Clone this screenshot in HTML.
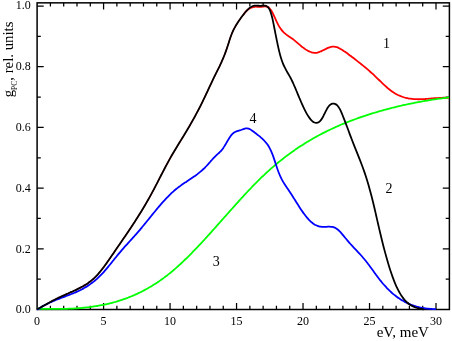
<!DOCTYPE html>
<html><head><meta charset="utf-8"><title>chart</title>
<style>html,body{margin:0;padding:0;background:#fff;overflow:hidden}svg{display:block;will-change:transform}text{font-family:"Liberation Serif",serif;fill:#000}</style>
</head><body>
<svg width="452" height="341" viewBox="0 0 452 341">
<rect x="0" y="0" width="452" height="341" fill="#fff"/>
<rect x="37.10" y="2.85" width="412.30" height="306.65" fill="none" stroke="#000" stroke-width="1.50"/>
<path d="M50.40 309.50v-3.70M50.40 2.85v3.70M63.69 309.50v-3.70M63.69 2.85v3.70M76.99 309.50v-3.70M76.99 2.85v3.70M90.29 309.50v-3.70M90.29 2.85v3.70M103.58 309.50v-6.60M103.58 2.85v6.60M116.88 309.50v-3.70M116.88 2.85v3.70M130.18 309.50v-3.70M130.18 2.85v3.70M143.47 309.50v-3.70M143.47 2.85v3.70M156.77 309.50v-3.70M156.77 2.85v3.70M170.07 309.50v-6.60M170.07 2.85v6.60M183.36 309.50v-3.70M183.36 2.85v3.70M196.66 309.50v-3.70M196.66 2.85v3.70M209.96 309.50v-3.70M209.96 2.85v3.70M223.25 309.50v-3.70M223.25 2.85v3.70M236.55 309.50v-6.60M236.55 2.85v6.60M249.85 309.50v-3.70M249.85 2.85v3.70M263.14 309.50v-3.70M263.14 2.85v3.70M276.44 309.50v-3.70M276.44 2.85v3.70M289.74 309.50v-3.70M289.74 2.85v3.70M303.03 309.50v-6.60M303.03 2.85v6.60M316.33 309.50v-3.70M316.33 2.85v3.70M329.63 309.50v-3.70M329.63 2.85v3.70M342.92 309.50v-3.70M342.92 2.85v3.70M356.22 309.50v-3.70M356.22 2.85v3.70M369.52 309.50v-6.60M369.52 2.85v6.60M382.81 309.50v-3.70M382.81 2.85v3.70M396.11 309.50v-3.70M396.11 2.85v3.70M409.41 309.50v-3.70M409.41 2.85v3.70M422.70 309.50v-3.70M422.70 2.85v3.70M436.00 309.50v-6.60M436.00 2.85v6.60M37.10 279.15h3.70M449.40 279.15h-3.70M37.10 248.81h6.60M449.40 248.81h-6.60M37.10 218.47h3.70M449.40 218.47h-3.70M37.10 188.12h6.60M449.40 188.12h-6.60M37.10 157.78h3.70M449.40 157.78h-3.70M37.10 127.43h6.60M449.40 127.43h-6.60M37.10 97.09h3.70M449.40 97.09h-3.70M37.10 66.74h6.60M449.40 66.74h-6.60M37.10 36.39h3.70M449.40 36.39h-3.70M37.10 6.05h6.60M449.40 6.05h-6.60" stroke="#000" stroke-width="1.25" fill="none"/>
<path d="M37.00 309.27C37.25 309.15 38.00 308.78 38.50 308.53C39.00 308.27 39.50 308.02 40.00 307.75C40.50 307.49 41.00 307.23 41.50 306.96C42.00 306.69 42.50 306.42 43.00 306.14C43.50 305.87 44.00 305.59 44.50 305.31C45.00 305.03 45.50 304.75 46.00 304.47C46.50 304.19 47.00 303.91 47.50 303.63C48.00 303.34 48.50 303.06 49.00 302.78C49.50 302.50 50.00 302.22 50.50 301.95C51.00 301.67 51.50 301.40 52.00 301.12C52.50 300.85 53.00 300.58 53.50 300.32C54.00 300.05 54.50 299.79 55.00 299.53C55.50 299.28 56.00 299.03 56.50 298.78C57.00 298.53 57.50 298.28 58.00 298.04C58.50 297.79 59.00 297.55 59.50 297.32C60.00 297.08 60.50 296.85 61.00 296.61C61.50 296.38 62.00 296.15 62.50 295.92C63.00 295.69 63.50 295.47 64.00 295.24C64.50 295.01 65.00 294.79 65.50 294.57C66.00 294.34 66.50 294.12 67.00 293.90C67.50 293.67 68.00 293.45 68.50 293.23C69.00 293.01 69.50 292.79 70.00 292.56C70.50 292.34 71.00 292.12 71.50 291.89C72.00 291.67 72.50 291.44 73.00 291.21C73.50 290.98 74.00 290.76 74.50 290.53C75.00 290.29 75.50 290.06 76.00 289.83C76.50 289.59 77.00 289.35 77.50 289.11C78.00 288.87 78.50 288.63 79.00 288.38C79.50 288.13 80.00 287.88 80.50 287.62C81.00 287.36 81.50 287.10 82.00 286.83C82.50 286.55 83.00 286.28 83.50 285.99C84.00 285.70 84.50 285.41 85.00 285.10C85.50 284.80 86.00 284.48 86.50 284.16C87.00 283.83 87.50 283.50 88.00 283.15C88.50 282.80 89.00 282.44 89.50 282.07C90.00 281.70 90.50 281.31 91.00 280.91C91.50 280.51 92.00 280.10 92.50 279.66C93.00 279.23 93.50 278.79 94.00 278.32C94.50 277.86 95.00 277.38 95.50 276.88C96.00 276.38 96.50 275.86 97.00 275.32C97.50 274.79 98.00 274.23 98.50 273.66C99.00 273.08 99.50 272.49 100.00 271.88C100.50 271.28 101.00 270.65 101.50 270.02C102.00 269.38 102.50 268.73 103.00 268.07C103.50 267.41 104.00 266.73 104.50 266.05C105.00 265.36 105.50 264.67 106.00 263.97C106.50 263.27 107.00 262.56 107.50 261.85C108.00 261.13 108.50 260.41 109.00 259.69C109.50 258.97 110.00 258.24 110.50 257.51C111.00 256.78 111.50 256.05 112.00 255.32C112.50 254.59 113.00 253.86 113.50 253.13C114.00 252.40 114.50 251.67 115.00 250.94C115.50 250.22 116.00 249.49 116.50 248.77C117.00 248.04 117.50 247.31 118.00 246.59C118.50 245.86 119.00 245.14 119.50 244.41C120.00 243.69 120.50 242.96 121.00 242.24C121.50 241.51 122.00 240.78 122.50 240.05C123.00 239.33 123.50 238.60 124.00 237.86C124.50 237.13 125.00 236.40 125.50 235.67C126.00 234.93 126.50 234.20 127.00 233.46C127.50 232.72 128.00 231.98 128.50 231.23C129.00 230.49 129.50 229.74 130.00 228.99C130.50 228.24 131.00 227.49 131.50 226.74C132.00 225.98 132.50 225.22 133.00 224.46C133.50 223.69 134.00 222.93 134.50 222.16C135.00 221.38 135.50 220.61 136.00 219.83C136.50 219.05 137.00 218.26 137.50 217.47C138.00 216.68 138.50 215.89 139.00 215.09C139.50 214.29 140.00 213.48 140.50 212.67C141.00 211.86 141.50 211.04 142.00 210.21C142.50 209.39 143.00 208.56 143.50 207.72C144.00 206.89 144.50 206.04 145.00 205.19C145.50 204.34 146.00 203.49 146.50 202.62C147.00 201.76 147.50 200.88 148.00 200.00C148.50 199.12 149.00 198.24 149.50 197.34C150.00 196.45 150.50 195.54 151.00 194.63C151.50 193.72 152.00 192.80 152.50 191.87C153.00 190.94 153.50 190.00 154.00 189.05C154.50 188.10 155.00 187.15 155.50 186.19C156.00 185.23 156.50 184.26 157.00 183.29C157.50 182.33 158.00 181.35 158.50 180.38C159.00 179.40 159.50 178.43 160.00 177.45C160.50 176.48 161.00 175.50 161.50 174.53C162.00 173.56 162.50 172.58 163.00 171.62C163.50 170.65 164.00 169.69 164.50 168.73C165.00 167.78 165.50 166.82 166.00 165.88C166.50 164.94 167.00 164.00 167.50 163.08C168.00 162.16 168.50 161.24 169.00 160.34C169.50 159.43 170.00 158.54 170.50 157.66C171.00 156.78 171.50 155.91 172.00 155.05C172.50 154.19 173.00 153.33 173.50 152.49C174.00 151.64 174.50 150.80 175.00 149.97C175.50 149.13 176.00 148.30 176.50 147.48C177.00 146.66 177.50 145.84 178.00 145.02C178.50 144.20 179.00 143.39 179.50 142.57C180.00 141.76 180.50 140.95 181.00 140.13C181.50 139.32 182.00 138.51 182.50 137.69C183.00 136.87 183.50 136.06 184.00 135.24C184.50 134.41 185.00 133.59 185.50 132.76C186.00 131.93 186.50 131.10 187.00 130.26C187.50 129.42 188.00 128.58 188.50 127.73C189.00 126.88 189.50 126.02 190.00 125.16C190.50 124.30 191.00 123.43 191.50 122.55C192.00 121.68 192.50 120.79 193.00 119.90C193.50 119.01 194.00 118.11 194.50 117.20C195.00 116.29 195.50 115.37 196.00 114.44C196.50 113.51 197.00 112.57 197.50 111.63C198.00 110.68 198.50 109.72 199.00 108.75C199.50 107.78 200.00 106.79 200.50 105.80C201.00 104.80 201.50 103.80 202.00 102.78C202.50 101.76 203.00 100.73 203.50 99.69C204.00 98.65 204.50 97.60 205.00 96.54C205.50 95.49 206.00 94.42 206.50 93.36C207.00 92.30 207.50 91.22 208.00 90.16C208.50 89.09 209.00 88.02 209.50 86.95C210.00 85.88 210.50 84.82 211.00 83.76C211.50 82.70 212.00 81.64 212.50 80.60C213.00 79.55 213.50 78.51 214.00 77.48C214.50 76.45 215.00 75.44 215.50 74.43C216.00 73.42 216.50 72.43 217.00 71.43C217.50 70.43 218.00 69.43 218.50 68.41C219.00 67.40 219.50 66.38 220.00 65.32C220.50 64.27 221.00 63.20 221.50 62.09C222.00 60.98 222.50 59.85 223.00 58.66C223.50 57.47 224.00 56.24 224.50 54.95C225.00 53.66 225.50 52.33 226.00 50.92C226.50 49.51 227.00 48.02 227.50 46.51C228.00 45.00 228.50 43.39 229.00 41.86C229.50 40.34 230.00 38.77 230.50 37.33C231.00 35.90 231.50 34.51 232.00 33.27C232.50 32.03 233.00 30.93 233.50 29.90C234.00 28.87 234.50 27.97 235.00 27.08C235.50 26.19 236.00 25.39 236.50 24.58C237.00 23.76 237.50 22.98 238.00 22.21C238.50 21.44 239.00 20.69 239.50 19.96C240.00 19.22 240.50 18.51 241.00 17.81C241.50 17.11 242.00 16.43 242.50 15.77C243.00 15.11 243.50 14.46 244.00 13.83C244.50 13.20 245.25 12.31 245.50 12.01" fill="none" stroke="#ff0000" stroke-width="1.28" stroke-linejoin="round" stroke-linecap="butt"/>
<path d="M244.00 13.83C244.25 13.53 245.00 12.59 245.50 12.01C246.00 11.43 246.50 10.81 247.00 10.34C247.50 9.87 248.00 9.54 248.50 9.20C249.00 8.86 249.50 8.55 250.00 8.29C250.50 8.03 251.00 7.85 251.50 7.65C252.00 7.46 252.50 7.25 253.00 7.11C253.50 6.96 254.00 6.85 254.50 6.78C255.00 6.72 255.50 6.72 256.00 6.71C256.50 6.71 257.00 6.75 257.50 6.78C258.00 6.80 258.50 6.84 259.00 6.86C259.50 6.88 259.75 6.96 260.50 6.91C261.25 6.85 262.75 6.64 263.50 6.55C264.25 6.46 264.50 6.37 265.00 6.36C265.50 6.36 266.00 6.39 266.50 6.52C267.00 6.65 267.50 6.83 268.00 7.12C268.50 7.42 269.00 7.79 269.50 8.29C270.00 8.79 270.50 9.39 271.00 10.12C271.50 10.85 272.00 11.74 272.50 12.69C273.00 13.64 273.50 14.73 274.00 15.81C274.50 16.89 275.00 18.06 275.50 19.16C276.00 20.27 276.50 21.41 277.00 22.44C277.50 23.48 278.00 24.46 278.50 25.36C279.00 26.25 279.50 27.07 280.00 27.82C280.50 28.58 281.00 29.26 281.50 29.90C282.00 30.53 282.50 31.11 283.00 31.64C283.50 32.18 284.00 32.66 284.50 33.12C285.00 33.58 285.50 33.99 286.00 34.39C286.50 34.78 287.00 35.15 287.50 35.50C288.00 35.86 288.50 36.19 289.00 36.53C289.50 36.87 290.00 37.19 290.50 37.53C291.00 37.86 291.50 38.20 292.00 38.55C292.50 38.91 293.00 39.28 293.50 39.67C294.00 40.05 294.50 40.45 295.00 40.86C295.50 41.27 296.00 41.69 296.50 42.11C297.00 42.53 297.50 42.96 298.00 43.39C298.50 43.82 299.00 44.25 299.50 44.67C300.00 45.10 300.50 45.53 301.00 45.94C301.50 46.36 302.00 46.77 302.50 47.16C303.00 47.56 303.50 47.94 304.00 48.31C304.50 48.68 305.00 49.03 305.50 49.37C306.00 49.70 306.50 50.01 307.00 50.30C307.50 50.59 308.00 50.87 308.50 51.11C309.00 51.36 309.50 51.58 310.00 51.78C310.50 51.98 311.00 52.15 311.50 52.29C312.00 52.43 312.50 52.55 313.00 52.64C313.50 52.72 314.00 52.78 314.50 52.80C315.00 52.82 315.50 52.81 316.00 52.77C316.50 52.73 317.00 52.65 317.50 52.54C318.00 52.43 318.50 52.28 319.00 52.11C319.50 51.95 320.00 51.75 320.50 51.54C321.00 51.33 321.50 51.10 322.00 50.86C322.50 50.63 323.00 50.37 323.50 50.12C324.00 49.87 324.50 49.61 325.00 49.36C325.50 49.11 326.00 48.85 326.50 48.62C327.00 48.38 327.50 48.15 328.00 47.95C328.50 47.74 329.00 47.55 329.50 47.38C330.00 47.22 330.50 47.07 331.00 46.96C331.50 46.85 332.00 46.76 332.50 46.71C333.00 46.66 333.50 46.63 334.00 46.65C334.50 46.67 335.00 46.71 335.50 46.81C336.00 46.90 336.50 47.03 337.00 47.21C337.50 47.38 338.00 47.61 338.50 47.85C339.00 48.10 339.50 48.38 340.00 48.67C340.50 48.95 341.00 49.26 341.50 49.56C342.00 49.87 342.50 50.18 343.00 50.51C343.50 50.83 344.00 51.16 344.50 51.49C345.00 51.83 345.50 52.17 346.00 52.52C346.50 52.87 347.00 53.22 347.50 53.58C348.00 53.94 348.50 54.30 349.00 54.67C349.50 55.04 350.00 55.41 350.50 55.79C351.00 56.16 351.50 56.54 352.00 56.92C352.50 57.30 353.00 57.69 353.50 58.07C354.00 58.46 354.50 58.85 355.00 59.24C355.50 59.62 356.00 60.01 356.50 60.40C357.00 60.79 357.50 61.18 358.00 61.58C358.50 61.97 359.00 62.36 359.50 62.76C360.00 63.15 360.50 63.55 361.00 63.94C361.50 64.34 362.00 64.74 362.50 65.15C363.00 65.55 363.50 65.95 364.00 66.36C364.50 66.77 365.00 67.19 365.50 67.60C366.00 68.02 366.50 68.44 367.00 68.86C367.50 69.29 368.00 69.72 368.50 70.15C369.00 70.59 369.50 71.02 370.00 71.47C370.50 71.91 371.00 72.36 371.50 72.82C372.00 73.28 372.50 73.74 373.00 74.21C373.50 74.68 374.00 75.15 374.50 75.63C375.00 76.11 375.50 76.59 376.00 77.07C376.50 77.56 377.00 78.04 377.50 78.53C378.00 79.01 378.50 79.50 379.00 79.99C379.50 80.48 380.00 80.96 380.50 81.44C381.00 81.93 381.50 82.41 382.00 82.89C382.50 83.36 383.00 83.84 383.50 84.30C384.00 84.77 384.50 85.23 385.00 85.69C385.50 86.14 386.00 86.59 386.50 87.03C387.00 87.47 387.50 87.90 388.00 88.32C388.50 88.74 389.00 89.15 389.50 89.55C390.00 89.94 390.50 90.33 391.00 90.70C391.50 91.08 392.00 91.44 392.50 91.78C393.00 92.13 393.50 92.46 394.00 92.77C394.50 93.09 395.00 93.39 395.50 93.68C396.00 93.96 396.50 94.24 397.00 94.50C397.50 94.76 398.00 95.01 398.50 95.24C399.00 95.48 399.50 95.70 400.00 95.91C400.50 96.12 401.00 96.31 401.50 96.50C402.00 96.69 402.50 96.86 403.00 97.03C403.50 97.19 404.00 97.34 404.50 97.49C405.00 97.63 405.50 97.76 406.00 97.89C406.50 98.01 407.00 98.12 407.50 98.22C408.00 98.33 408.50 98.42 409.00 98.51C409.50 98.60 410.00 98.67 410.50 98.74C411.00 98.81 411.50 98.87 412.00 98.93C412.50 98.98 413.00 99.03 413.50 99.07C414.00 99.11 414.50 99.14 415.00 99.17C415.50 99.19 416.00 99.21 416.50 99.23C417.00 99.24 417.50 99.25 418.00 99.25C418.50 99.26 419.00 99.25 419.50 99.25C420.00 99.24 420.50 99.23 421.00 99.22C421.50 99.20 422.00 99.18 422.50 99.16C423.00 99.14 423.50 99.11 424.00 99.08C424.50 99.05 425.00 99.02 425.50 98.99C426.00 98.95 426.50 98.92 427.00 98.88C427.50 98.84 428.00 98.80 428.50 98.76C429.00 98.72 429.50 98.68 430.00 98.63C430.50 98.59 431.00 98.55 431.50 98.51C432.00 98.46 432.50 98.42 433.00 98.38C433.50 98.33 434.00 98.29 434.50 98.25C435.00 98.21 435.50 98.17 436.00 98.13C436.50 98.09 437.00 98.06 437.50 98.02C438.00 97.99 438.50 97.96 439.00 97.93C439.50 97.90 440.00 97.87 440.50 97.85C441.00 97.83 441.50 97.81 442.00 97.79C442.50 97.78 443.00 97.77 443.50 97.76C444.00 97.75 444.50 97.75 445.00 97.75C445.50 97.76 446.00 97.76 446.50 97.78C447.00 97.79 447.58 97.82 448.00 97.84C448.42 97.86 448.83 97.89 449.00 97.90" fill="none" stroke="#ff0000" stroke-width="1.78" stroke-linejoin="round" stroke-linecap="butt"/>
<path d="M37.00 308.71C37.25 308.72 38.00 308.73 38.50 308.75C39.00 308.76 39.50 308.77 40.00 308.78C40.50 308.79 41.00 308.80 41.50 308.81C42.00 308.82 42.50 308.83 43.00 308.84C43.50 308.85 44.00 308.86 44.50 308.87C45.00 308.88 45.50 308.89 46.00 308.90C46.50 308.90 47.00 308.91 47.50 308.92C48.00 308.92 48.50 308.93 49.00 308.94C49.50 308.94 50.00 308.95 50.50 308.95C51.00 308.96 51.50 308.96 52.00 308.96C52.50 308.96 53.00 308.97 53.50 308.97C54.00 308.97 54.50 308.97 55.00 308.97C55.50 308.97 56.00 308.97 56.50 308.97C57.00 308.96 57.50 308.96 58.00 308.96C58.50 308.95 59.00 308.95 59.50 308.94C60.00 308.94 60.50 308.93 61.00 308.92C61.50 308.92 62.00 308.91 62.50 308.90C63.00 308.89 63.50 308.88 64.00 308.87C64.50 308.86 65.00 308.84 65.50 308.83C66.00 308.82 66.50 308.80 67.00 308.78C67.50 308.77 68.00 308.75 68.50 308.73C69.00 308.71 69.50 308.69 70.00 308.67C70.50 308.65 71.00 308.63 71.50 308.60C72.00 308.58 72.50 308.56 73.00 308.53C73.50 308.50 74.00 308.47 74.50 308.45C75.00 308.42 75.50 308.39 76.00 308.35C76.50 308.32 77.00 308.29 77.50 308.25C78.00 308.22 78.50 308.18 79.00 308.14C79.50 308.10 80.00 308.06 80.50 308.02C81.00 307.98 81.50 307.94 82.00 307.89C82.50 307.85 83.00 307.80 83.50 307.75C84.00 307.70 84.50 307.65 85.00 307.60C85.50 307.55 86.00 307.50 86.50 307.44C87.00 307.39 87.50 307.33 88.00 307.27C88.50 307.21 89.00 307.15 89.50 307.09C90.00 307.03 90.50 306.96 91.00 306.89C91.50 306.83 92.00 306.76 92.50 306.69C93.00 306.62 93.50 306.55 94.00 306.47C94.50 306.40 95.00 306.32 95.50 306.24C96.00 306.16 96.50 306.08 97.00 306.00C97.50 305.91 98.00 305.83 98.50 305.74C99.00 305.65 99.50 305.57 100.00 305.47C100.50 305.38 101.00 305.29 101.50 305.19C102.00 305.09 102.50 305.00 103.00 304.90C103.50 304.79 104.00 304.69 104.50 304.59C105.00 304.48 105.50 304.37 106.00 304.26C106.50 304.15 107.00 304.04 107.50 303.92C108.00 303.81 108.50 303.69 109.00 303.57C109.50 303.45 110.00 303.33 110.50 303.20C111.00 303.07 111.50 302.95 112.00 302.81C112.50 302.68 113.00 302.55 113.50 302.41C114.00 302.28 114.50 302.14 115.00 302.00C115.50 301.86 116.00 301.71 116.50 301.57C117.00 301.42 117.50 301.27 118.00 301.12C118.50 300.96 119.00 300.81 119.50 300.65C120.00 300.49 120.50 300.33 121.00 300.17C121.50 300.00 122.00 299.84 122.50 299.67C123.00 299.50 123.50 299.32 124.00 299.15C124.50 298.97 125.00 298.79 125.50 298.61C126.00 298.43 126.50 298.24 127.00 298.06C127.50 297.87 128.00 297.68 128.50 297.48C129.00 297.29 129.50 297.09 130.00 296.89C130.50 296.69 131.00 296.49 131.50 296.28C132.00 296.07 132.50 295.86 133.00 295.65C133.50 295.43 134.00 295.22 134.50 295.00C135.00 294.78 135.50 294.55 136.00 294.33C136.50 294.10 137.00 293.87 137.50 293.64C138.00 293.40 138.50 293.16 139.00 292.92C139.50 292.68 140.00 292.44 140.50 292.19C141.00 291.94 141.50 291.69 142.00 291.44C142.50 291.18 143.00 290.92 143.50 290.66C144.00 290.40 144.50 290.13 145.00 289.86C145.50 289.59 146.00 289.32 146.50 289.04C147.00 288.77 147.50 288.49 148.00 288.20C148.50 287.92 149.00 287.63 149.50 287.34C150.00 287.05 150.50 286.75 151.00 286.45C151.50 286.15 152.00 285.85 152.50 285.54C153.00 285.23 153.50 284.92 154.00 284.61C154.50 284.29 155.00 283.97 155.50 283.65C156.00 283.33 156.50 283.00 157.00 282.67C157.50 282.34 158.00 282.00 158.50 281.66C159.00 281.32 159.50 280.98 160.00 280.63C160.50 280.28 161.00 279.93 161.50 279.57C162.00 279.22 162.50 278.86 163.00 278.49C163.50 278.13 164.00 277.76 164.50 277.39C165.00 277.01 165.50 276.64 166.00 276.26C166.50 275.87 167.00 275.49 167.50 275.10C168.00 274.71 168.50 274.31 169.00 273.91C169.50 273.51 170.00 273.11 170.50 272.70C171.00 272.29 171.50 271.88 172.00 271.46C172.50 271.05 173.00 270.62 173.50 270.20C174.00 269.77 174.50 269.34 175.00 268.91C175.50 268.48 176.00 268.04 176.50 267.60C177.00 267.15 177.50 266.71 178.00 266.26C178.50 265.81 179.00 265.36 179.50 264.90C180.00 264.44 180.50 263.98 181.00 263.52C181.50 263.05 182.00 262.58 182.50 262.11C183.00 261.64 183.50 261.16 184.00 260.69C184.50 260.21 185.00 259.73 185.50 259.24C186.00 258.76 186.50 258.27 187.00 257.78C187.50 257.29 188.00 256.79 188.50 256.29C189.00 255.80 189.50 255.30 190.00 254.79C190.50 254.29 191.00 253.79 191.50 253.28C192.00 252.77 192.50 252.26 193.00 251.74C193.50 251.23 194.00 250.71 194.50 250.20C195.00 249.68 195.50 249.16 196.00 248.63C196.50 248.11 197.00 247.58 197.50 247.06C198.00 246.53 198.50 246.00 199.00 245.47C199.50 244.93 200.00 244.40 200.50 243.86C201.00 243.33 201.50 242.79 202.00 242.25C202.50 241.71 203.00 241.17 203.50 240.63C204.00 240.08 204.50 239.54 205.00 238.99C205.50 238.44 206.00 237.90 206.50 237.35C207.00 236.80 207.50 236.25 208.00 235.69C208.50 235.14 209.00 234.59 209.50 234.03C210.00 233.48 210.50 232.92 211.00 232.37C211.50 231.81 212.00 231.25 212.50 230.69C213.00 230.13 213.50 229.57 214.00 229.01C214.50 228.45 215.00 227.89 215.50 227.33C216.00 226.77 216.50 226.21 217.00 225.64C217.50 225.08 218.00 224.52 218.50 223.95C219.00 223.39 219.50 222.82 220.00 222.26C220.50 221.69 221.00 221.13 221.50 220.56C222.00 220.00 222.50 219.43 223.00 218.87C223.50 218.30 224.00 217.74 224.50 217.17C225.00 216.61 225.50 216.04 226.00 215.48C226.50 214.91 227.00 214.35 227.50 213.78C228.00 213.22 228.50 212.66 229.00 212.09C229.50 211.53 230.00 210.97 230.50 210.40C231.00 209.84 231.50 209.28 232.00 208.72C232.50 208.16 233.00 207.60 233.50 207.04C234.00 206.48 234.50 205.92 235.00 205.36C235.50 204.81 236.00 204.25 236.50 203.69C237.00 203.14 237.50 202.58 238.00 202.03C238.50 201.48 239.00 200.93 239.50 200.38C240.00 199.83 240.50 199.28 241.00 198.73C241.50 198.18 242.00 197.64 242.50 197.09C243.00 196.55 243.50 196.00 244.00 195.46C244.50 194.92 245.00 194.38 245.50 193.85C246.00 193.31 246.50 192.77 247.00 192.24C247.50 191.71 248.00 191.17 248.50 190.64C249.00 190.12 249.50 189.59 250.00 189.06C250.50 188.54 251.00 188.02 251.50 187.50C252.00 186.98 252.50 186.46 253.00 185.94C253.50 185.43 254.00 184.91 254.50 184.40C255.00 183.89 255.50 183.39 256.00 182.88C256.50 182.38 257.00 181.87 257.50 181.38C258.00 180.88 258.50 180.38 259.00 179.89C259.50 179.39 260.00 178.90 260.50 178.42C261.00 177.93 261.50 177.45 262.00 176.97C262.50 176.49 263.00 176.01 263.50 175.53C264.00 175.06 264.50 174.59 265.00 174.12C265.50 173.66 266.00 173.19 266.50 172.73C267.00 172.27 267.50 171.81 268.00 171.36C268.50 170.91 269.00 170.46 269.50 170.01C270.00 169.56 270.50 169.12 271.00 168.68C271.50 168.24 272.00 167.80 272.50 167.37C273.00 166.93 273.50 166.50 274.00 166.07C274.50 165.64 275.00 165.22 275.50 164.80C276.00 164.38 276.50 163.96 277.00 163.54C277.50 163.13 278.00 162.72 278.50 162.31C279.00 161.90 279.50 161.49 280.00 161.09C280.50 160.69 281.00 160.29 281.50 159.89C282.00 159.49 282.50 159.10 283.00 158.71C283.50 158.32 284.00 157.93 284.50 157.54C285.00 157.16 285.50 156.78 286.00 156.40C286.50 156.02 287.00 155.64 287.50 155.27C288.00 154.90 288.50 154.53 289.00 154.16C289.50 153.79 290.00 153.43 290.50 153.06C291.00 152.70 291.50 152.34 292.00 151.99C292.50 151.63 293.00 151.28 293.50 150.92C294.00 150.57 294.50 150.23 295.00 149.88C295.50 149.53 296.00 149.19 296.50 148.85C297.00 148.51 297.50 148.17 298.00 147.84C298.50 147.50 299.00 147.17 299.50 146.84C300.00 146.51 300.50 146.19 301.00 145.86C301.50 145.54 302.00 145.22 302.50 144.90C303.00 144.58 303.50 144.26 304.00 143.95C304.50 143.63 305.00 143.32 305.50 143.01C306.00 142.70 306.50 142.40 307.00 142.09C307.50 141.79 308.00 141.48 308.50 141.19C309.00 140.89 309.50 140.59 310.00 140.29C310.50 140.00 311.00 139.71 311.50 139.42C312.00 139.13 312.50 138.84 313.00 138.55C313.50 138.27 314.00 137.99 314.50 137.70C315.00 137.42 315.50 137.15 316.00 136.87C316.50 136.59 317.00 136.32 317.50 136.05C318.00 135.77 318.50 135.51 319.00 135.24C319.50 134.97 320.00 134.70 320.50 134.44C321.00 134.18 321.50 133.92 322.00 133.66C322.50 133.40 323.00 133.14 323.50 132.89C324.00 132.63 324.50 132.38 325.00 132.13C325.50 131.88 326.00 131.63 326.50 131.38C327.00 131.14 327.50 130.89 328.00 130.65C328.50 130.41 329.00 130.17 329.50 129.93C330.00 129.69 330.50 129.45 331.00 129.22C331.50 128.98 332.00 128.75 332.50 128.52C333.00 128.29 333.50 128.06 334.00 127.83C334.50 127.60 335.00 127.38 335.50 127.15C336.00 126.93 336.50 126.71 337.00 126.49C337.50 126.27 338.00 126.05 338.50 125.83C339.00 125.62 339.50 125.40 340.00 125.19C340.50 124.97 341.00 124.76 341.50 124.55C342.00 124.34 342.50 124.13 343.00 123.93C343.50 123.72 344.00 123.52 344.50 123.31C345.00 123.11 345.50 122.91 346.00 122.71C346.50 122.51 347.00 122.31 347.50 122.11C348.00 121.91 348.50 121.72 349.00 121.52C349.50 121.33 350.00 121.14 350.50 120.95C351.00 120.75 351.50 120.56 352.00 120.38C352.50 120.19 353.00 120.00 353.50 119.82C354.00 119.63 354.50 119.45 355.00 119.26C355.50 119.08 356.00 118.90 356.50 118.72C357.00 118.54 357.50 118.36 358.00 118.18C358.50 118.01 359.00 117.83 359.50 117.66C360.00 117.48 360.50 117.31 361.00 117.14C361.50 116.96 362.00 116.79 362.50 116.62C363.00 116.45 363.50 116.28 364.00 116.12C364.50 115.95 365.00 115.78 365.50 115.62C366.00 115.45 366.50 115.29 367.00 115.13C367.50 114.96 368.00 114.80 368.50 114.64C369.00 114.48 369.50 114.32 370.00 114.16C370.50 114.00 371.00 113.85 371.50 113.69C372.00 113.53 372.50 113.38 373.00 113.22C373.50 113.07 374.00 112.92 374.50 112.76C375.00 112.61 375.50 112.46 376.00 112.31C376.50 112.16 377.00 112.01 377.50 111.87C378.00 111.72 378.50 111.57 379.00 111.43C379.50 111.28 380.00 111.14 380.50 110.99C381.00 110.85 381.50 110.71 382.00 110.57C382.50 110.43 383.00 110.29 383.50 110.15C384.00 110.01 384.50 109.87 385.00 109.73C385.50 109.59 386.00 109.46 386.50 109.32C387.00 109.19 387.50 109.06 388.00 108.92C388.50 108.79 389.00 108.66 389.50 108.53C390.00 108.40 390.50 108.27 391.00 108.14C391.50 108.01 392.00 107.88 392.50 107.75C393.00 107.63 393.50 107.50 394.00 107.38C394.50 107.25 395.00 107.13 395.50 107.01C396.00 106.88 396.50 106.76 397.00 106.64C397.50 106.52 398.00 106.40 398.50 106.28C399.00 106.16 399.50 106.05 400.00 105.93C400.50 105.81 401.00 105.70 401.50 105.58C402.00 105.47 402.50 105.35 403.00 105.24C403.50 105.13 404.00 105.02 404.50 104.91C405.00 104.79 405.50 104.68 406.00 104.58C406.50 104.47 407.00 104.36 407.50 104.25C408.00 104.15 408.50 104.04 409.00 103.93C409.50 103.83 410.00 103.73 410.50 103.62C411.00 103.52 411.50 103.42 412.00 103.32C412.50 103.21 413.00 103.11 413.50 103.01C414.00 102.92 414.50 102.82 415.00 102.72C415.50 102.62 416.00 102.53 416.50 102.43C417.00 102.33 417.50 102.24 418.00 102.15C418.50 102.05 419.00 101.96 419.50 101.87C420.00 101.77 420.50 101.68 421.00 101.59C421.50 101.50 422.00 101.41 422.50 101.33C423.00 101.24 423.50 101.15 424.00 101.06C424.50 100.98 425.00 100.89 425.50 100.81C426.00 100.72 426.50 100.64 427.00 100.56C427.50 100.47 428.00 100.39 428.50 100.31C429.00 100.23 429.50 100.15 430.00 100.07C430.50 99.99 431.00 99.91 431.50 99.83C432.00 99.75 432.50 99.68 433.00 99.60C433.50 99.53 434.00 99.45 434.50 99.38C435.00 99.30 435.50 99.23 436.00 99.16C436.50 99.08 437.00 99.01 437.50 98.94C438.00 98.87 438.50 98.80 439.00 98.73C439.50 98.66 440.00 98.59 440.50 98.53C441.00 98.46 441.50 98.39 442.00 98.33C442.50 98.26 443.00 98.20 443.50 98.13C444.00 98.07 444.50 98.00 445.00 97.94C445.50 97.88 446.00 97.82 446.50 97.76C447.00 97.70 447.58 97.63 448.00 97.58C448.42 97.53 448.83 97.48 449.00 97.46" fill="none" stroke="#00ff00" stroke-width="1.78" stroke-linejoin="round" stroke-linecap="butt"/>
<path d="M37.00 309.45C37.25 309.36 38.00 309.17 38.50 308.92C39.00 308.67 39.50 308.26 40.00 307.94C40.50 307.62 41.00 307.31 41.50 307.01C42.00 306.71 42.50 306.41 43.00 306.12C43.50 305.84 44.00 305.56 44.50 305.28C45.00 305.01 45.50 304.74 46.00 304.48C46.50 304.22 47.00 303.97 47.50 303.72C48.00 303.47 48.50 303.23 49.00 302.99C49.50 302.75 50.00 302.52 50.50 302.29C51.00 302.06 51.50 301.84 52.00 301.62C52.50 301.40 53.00 301.18 53.50 300.97C54.00 300.76 54.50 300.55 55.00 300.35C55.50 300.14 56.00 299.94 56.50 299.74C57.00 299.54 57.50 299.35 58.00 299.15C58.50 298.96 59.00 298.76 59.50 298.57C60.00 298.38 60.50 298.19 61.00 298.00C61.50 297.81 62.00 297.63 62.50 297.44C63.00 297.25 63.50 297.06 64.00 296.88C64.50 296.69 65.00 296.50 65.50 296.31C66.00 296.13 66.50 295.94 67.00 295.75C67.50 295.56 68.00 295.37 68.50 295.18C69.00 294.98 69.50 294.79 70.00 294.59C70.50 294.40 71.00 294.20 71.50 294.00C72.00 293.80 72.50 293.59 73.00 293.39C73.50 293.18 74.00 292.97 74.50 292.75C75.00 292.54 75.50 292.32 76.00 292.10C76.50 291.88 77.00 291.65 77.50 291.42C78.00 291.19 78.50 290.95 79.00 290.71C79.50 290.47 80.00 290.22 80.50 289.97C81.00 289.72 81.50 289.46 82.00 289.19C82.50 288.93 83.00 288.66 83.50 288.38C84.00 288.10 84.50 287.81 85.00 287.52C85.50 287.23 86.00 286.93 86.50 286.62C87.00 286.31 87.50 286.00 88.00 285.67C88.50 285.35 89.00 285.01 89.50 284.67C90.00 284.33 90.50 283.98 91.00 283.62C91.50 283.26 92.00 282.89 92.50 282.50C93.00 282.12 93.50 281.73 94.00 281.33C94.50 280.93 95.00 280.52 95.50 280.10C96.00 279.67 96.50 279.24 97.00 278.79C97.50 278.35 98.00 277.89 98.50 277.42C99.00 276.95 99.50 276.47 100.00 275.98C100.50 275.48 101.00 274.97 101.50 274.45C102.00 273.93 102.50 273.40 103.00 272.85C103.50 272.31 104.00 271.74 104.50 271.18C105.00 270.61 105.50 270.02 106.00 269.43C106.50 268.85 107.00 268.25 107.50 267.64C108.00 267.04 108.50 266.42 109.00 265.81C109.50 265.19 110.00 264.57 110.50 263.94C111.00 263.32 111.50 262.69 112.00 262.06C112.50 261.44 113.00 260.81 113.50 260.18C114.00 259.55 114.50 258.92 115.00 258.30C115.50 257.67 116.00 257.05 116.50 256.44C117.00 255.82 117.50 255.21 118.00 254.60C118.50 254.00 119.00 253.40 119.50 252.81C120.00 252.22 120.50 251.63 121.00 251.05C121.50 250.47 122.00 249.90 122.50 249.32C123.00 248.75 123.50 248.19 124.00 247.63C124.50 247.06 125.00 246.50 125.50 245.95C126.00 245.39 126.50 244.84 127.00 244.29C127.50 243.73 128.00 243.18 128.50 242.63C129.00 242.08 129.50 241.53 130.00 240.98C130.50 240.43 131.00 239.88 131.50 239.33C132.00 238.78 132.50 238.23 133.00 237.68C133.50 237.12 134.00 236.57 134.50 236.01C135.00 235.45 135.50 234.88 136.00 234.32C136.50 233.75 137.00 233.18 137.50 232.61C138.00 232.03 138.50 231.45 139.00 230.86C139.50 230.28 140.00 229.69 140.50 229.09C141.00 228.50 141.50 227.90 142.00 227.30C142.50 226.70 143.00 226.09 143.50 225.48C144.00 224.87 144.50 224.26 145.00 223.65C145.50 223.03 146.00 222.42 146.50 221.80C147.00 221.19 147.50 220.57 148.00 219.95C148.50 219.33 149.00 218.71 149.50 218.09C150.00 217.47 150.50 216.85 151.00 216.24C151.50 215.62 152.00 215.00 152.50 214.39C153.00 213.77 153.50 213.16 154.00 212.55C154.50 211.93 155.00 211.32 155.50 210.72C156.00 210.11 156.50 209.51 157.00 208.91C157.50 208.31 158.00 207.72 158.50 207.12C159.00 206.53 159.50 205.95 160.00 205.37C160.50 204.78 161.00 204.21 161.50 203.64C162.00 203.07 162.50 202.50 163.00 201.95C163.50 201.39 164.00 200.84 164.50 200.29C165.00 199.75 165.50 199.21 166.00 198.68C166.50 198.15 167.00 197.63 167.50 197.12C168.00 196.60 168.50 196.10 169.00 195.60C169.50 195.10 170.00 194.61 170.50 194.13C171.00 193.65 171.50 193.17 172.00 192.71C172.50 192.24 173.00 191.79 173.50 191.34C174.00 190.90 174.50 190.46 175.00 190.03C175.50 189.61 176.00 189.19 176.50 188.78C177.00 188.38 177.50 187.98 178.00 187.60C178.50 187.21 179.00 186.83 179.50 186.46C180.00 186.09 180.50 185.73 181.00 185.37C181.50 185.01 182.00 184.66 182.50 184.32C183.00 183.97 183.50 183.63 184.00 183.30C184.50 182.96 185.00 182.63 185.50 182.30C186.00 181.96 186.50 181.64 187.00 181.31C187.50 180.98 188.00 180.65 188.50 180.33C189.00 180.00 189.50 179.67 190.00 179.34C190.50 179.01 191.00 178.68 191.50 178.35C192.00 178.01 192.50 177.67 193.00 177.33C193.50 176.99 194.00 176.64 194.50 176.29C195.00 175.93 195.50 175.58 196.00 175.21C196.50 174.84 197.00 174.47 197.50 174.09C198.00 173.71 198.50 173.32 199.00 172.92C199.50 172.51 200.00 172.10 200.50 171.68C201.00 171.26 201.50 170.83 202.00 170.38C202.50 169.93 203.00 169.48 203.50 169.00C204.00 168.53 204.50 168.04 205.00 167.54C205.50 167.04 206.00 166.52 206.50 165.99C207.00 165.46 207.50 164.90 208.00 164.35C208.50 163.79 209.00 163.22 209.50 162.65C210.00 162.09 210.50 161.51 211.00 160.94C211.50 160.37 212.00 159.80 212.50 159.25C213.00 158.69 213.50 158.14 214.00 157.60C214.50 157.07 215.00 156.55 215.50 156.05C216.00 155.55 216.50 155.07 217.00 154.61C217.50 154.16 218.00 153.74 218.50 153.30C219.00 152.86 219.50 152.44 220.00 151.96C220.50 151.47 221.00 150.98 221.50 150.39C222.00 149.81 222.50 149.15 223.00 148.44C223.50 147.73 224.00 146.93 224.50 146.12C225.00 145.31 225.50 144.44 226.00 143.58C226.50 142.73 227.00 141.84 227.50 140.99C228.00 140.14 228.50 139.28 229.00 138.49C229.50 137.69 230.00 136.92 230.50 136.23C231.00 135.55 231.50 134.91 232.00 134.37C232.50 133.83 233.00 133.38 233.50 132.99C234.00 132.60 234.50 132.29 235.00 132.02C235.50 131.75 236.00 131.55 236.50 131.35C237.00 131.16 237.50 131.02 238.00 130.88C238.50 130.73 239.00 130.61 239.50 130.47C240.00 130.33 240.50 130.20 241.00 130.03C241.50 129.86 242.00 129.66 242.50 129.46C243.00 129.27 243.50 129.04 244.00 128.86C244.50 128.69 245.00 128.51 245.50 128.41C246.00 128.32 246.50 128.26 247.00 128.29C247.50 128.32 248.00 128.43 248.50 128.59C249.00 128.74 249.50 128.97 250.00 129.23C250.50 129.49 251.00 129.81 251.50 130.14C252.00 130.47 252.50 130.84 253.00 131.22C253.50 131.59 254.00 132.00 254.50 132.39C255.00 132.78 255.50 133.18 256.00 133.57C256.50 133.96 257.00 134.34 257.50 134.73C258.00 135.12 258.50 135.50 259.00 135.90C259.50 136.30 260.00 136.71 260.50 137.13C261.00 137.55 261.50 137.99 262.00 138.45C262.50 138.90 263.00 139.38 263.50 139.88C264.00 140.39 264.50 140.91 265.00 141.48C265.50 142.05 266.00 142.63 266.50 143.28C267.00 143.92 267.50 144.60 268.00 145.36C268.50 146.12 269.00 146.93 269.50 147.84C270.00 148.75 270.50 149.72 271.00 150.81C271.50 151.90 272.00 153.09 272.50 154.38C273.00 155.68 273.50 157.13 274.00 158.59C274.50 160.06 275.00 161.65 275.50 163.18C276.00 164.71 276.50 166.30 277.00 167.77C277.50 169.24 278.00 170.70 278.50 172.02C279.00 173.34 279.50 174.55 280.00 175.69C280.50 176.82 281.00 177.86 281.50 178.85C282.00 179.83 282.50 180.73 283.00 181.60C283.50 182.47 284.00 183.27 284.50 184.06C285.00 184.85 285.50 185.59 286.00 186.33C286.50 187.07 287.00 187.78 287.50 188.52C288.00 189.25 288.50 189.98 289.00 190.73C289.50 191.47 290.00 192.23 290.50 193.00C291.00 193.77 291.50 194.55 292.00 195.33C292.50 196.12 293.00 196.91 293.50 197.70C294.00 198.49 294.50 199.29 295.00 200.08C295.50 200.88 296.00 201.68 296.50 202.47C297.00 203.26 297.50 204.05 298.00 204.83C298.50 205.61 299.00 206.39 299.50 207.16C300.00 207.93 300.50 208.69 301.00 209.43C301.50 210.18 302.00 210.91 302.50 211.63C303.00 212.35 303.50 213.06 304.00 213.74C304.50 214.42 305.00 215.09 305.50 215.74C306.00 216.38 306.50 217.01 307.00 217.61C307.50 218.21 308.00 218.78 308.50 219.33C309.00 219.88 309.50 220.40 310.00 220.89C310.50 221.38 311.00 221.84 311.50 222.26C312.00 222.69 312.50 223.08 313.00 223.44C313.50 223.80 314.00 224.12 314.50 224.41C315.00 224.71 315.50 224.97 316.00 225.20C316.50 225.43 317.00 225.64 317.50 225.81C318.00 225.99 318.50 226.14 319.00 226.27C319.50 226.41 320.00 226.51 320.50 226.60C321.00 226.68 321.50 226.74 322.00 226.79C322.50 226.84 323.00 226.86 323.50 226.88C324.00 226.89 324.50 226.88 325.00 226.87C325.50 226.86 326.00 226.83 326.50 226.81C327.00 226.78 327.50 226.75 328.00 226.73C328.50 226.72 329.00 226.70 329.50 226.70C330.00 226.71 330.50 226.72 331.00 226.77C331.50 226.82 332.00 226.88 332.50 226.98C333.00 227.08 333.50 227.21 334.00 227.39C334.50 227.56 335.00 227.77 335.50 228.04C336.00 228.31 336.50 228.63 337.00 228.99C337.50 229.36 338.00 229.78 338.50 230.23C339.00 230.68 339.50 231.18 340.00 231.69C340.50 232.21 341.00 232.77 341.50 233.34C342.00 233.91 342.50 234.51 343.00 235.11C343.50 235.71 344.00 236.33 344.50 236.94C345.00 237.56 345.50 238.18 346.00 238.79C346.50 239.40 347.00 240.01 347.50 240.60C348.00 241.20 348.50 241.77 349.00 242.35C349.50 242.92 350.00 243.47 350.50 244.03C351.00 244.58 351.50 245.12 352.00 245.66C352.50 246.20 353.00 246.73 353.50 247.27C354.00 247.80 354.50 248.32 355.00 248.85C355.50 249.38 356.00 249.90 356.50 250.43C357.00 250.96 357.50 251.49 358.00 252.02C358.50 252.55 359.00 253.09 359.50 253.63C360.00 254.17 360.50 254.72 361.00 255.27C361.50 255.83 362.00 256.39 362.50 256.97C363.00 257.54 363.50 258.12 364.00 258.72C364.50 259.32 365.00 259.93 365.50 260.55C366.00 261.18 366.50 261.82 367.00 262.46C367.50 263.11 368.00 263.77 368.50 264.44C369.00 265.10 369.50 265.78 370.00 266.46C370.50 267.14 371.00 267.83 371.50 268.51C372.00 269.20 372.50 269.90 373.00 270.59C373.50 271.28 374.00 271.97 374.50 272.66C375.00 273.35 375.50 274.04 376.00 274.72C376.50 275.40 377.00 276.08 377.50 276.75C378.00 277.42 378.50 278.08 379.00 278.73C379.50 279.39 380.00 280.03 380.50 280.66C381.00 281.29 381.50 281.90 382.00 282.51C382.50 283.11 383.00 283.70 383.50 284.28C384.00 284.85 384.50 285.42 385.00 285.97C385.50 286.52 386.00 287.06 386.50 287.58C387.00 288.11 387.50 288.62 388.00 289.13C388.50 289.63 389.00 290.12 389.50 290.60C390.00 291.07 390.50 291.54 391.00 291.99C391.50 292.45 392.00 292.89 392.50 293.32C393.00 293.75 393.50 294.17 394.00 294.58C394.50 294.99 395.00 295.39 395.50 295.78C396.00 296.17 396.50 296.54 397.00 296.91C397.50 297.27 398.00 297.63 398.50 297.98C399.00 298.32 399.50 298.66 400.00 298.98C400.50 299.31 401.00 299.62 401.50 299.93C402.00 300.24 402.50 300.53 403.00 300.82C403.50 301.11 404.00 301.38 404.50 301.65C405.00 301.92 405.50 302.18 406.00 302.43C406.50 302.68 407.00 302.93 407.50 303.16C408.00 303.39 408.50 303.62 409.00 303.83C409.50 304.05 410.00 304.26 410.50 304.46C411.00 304.66 411.50 304.85 412.00 305.04C412.50 305.22 413.00 305.40 413.50 305.57C414.00 305.74 414.50 305.90 415.00 306.06C415.50 306.21 416.00 306.36 416.50 306.50C417.00 306.64 417.50 306.78 418.00 306.90C418.50 307.03 419.00 307.15 419.50 307.27C420.00 307.38 420.50 307.49 421.00 307.59C421.50 307.70 422.00 307.79 422.50 307.88C423.00 307.97 423.50 308.06 424.00 308.14C424.50 308.22 425.00 308.29 425.50 308.36C426.00 308.43 426.50 308.49 427.00 308.55C427.50 308.61 428.00 308.66 428.50 308.71C429.00 308.76 429.50 308.81 430.00 308.85C430.50 308.89 431.00 308.92 431.50 308.95C432.00 308.98 432.50 309.01 433.00 309.03C433.50 309.06 434.00 309.08 434.50 309.09C435.00 309.11 435.75 309.13 436.00 309.13" fill="none" stroke="#0000ff" stroke-width="1.78" stroke-linejoin="round" stroke-linecap="butt"/>
<path d="M37.00 309.27C37.25 309.15 38.00 308.78 38.50 308.53C39.00 308.27 39.50 308.02 40.00 307.75C40.50 307.49 41.00 307.23 41.50 306.96C42.00 306.69 42.50 306.42 43.00 306.14C43.50 305.87 44.00 305.59 44.50 305.31C45.00 305.03 45.50 304.75 46.00 304.47C46.50 304.19 47.00 303.91 47.50 303.63C48.00 303.34 48.50 303.06 49.00 302.78C49.50 302.50 50.00 302.22 50.50 301.95C51.00 301.67 51.50 301.40 52.00 301.12C52.50 300.85 53.00 300.58 53.50 300.32C54.00 300.05 54.50 299.79 55.00 299.53C55.50 299.28 56.00 299.03 56.50 298.78C57.00 298.53 57.50 298.28 58.00 298.04C58.50 297.79 59.00 297.55 59.50 297.32C60.00 297.08 60.50 296.85 61.00 296.61C61.50 296.38 62.00 296.15 62.50 295.92C63.00 295.69 63.50 295.47 64.00 295.24C64.50 295.01 65.00 294.79 65.50 294.57C66.00 294.34 66.50 294.12 67.00 293.90C67.50 293.67 68.00 293.45 68.50 293.23C69.00 293.01 69.50 292.79 70.00 292.56C70.50 292.34 71.00 292.12 71.50 291.89C72.00 291.67 72.50 291.44 73.00 291.21C73.50 290.98 74.00 290.76 74.50 290.53C75.00 290.29 75.50 290.06 76.00 289.83C76.50 289.59 77.00 289.35 77.50 289.11C78.00 288.87 78.50 288.63 79.00 288.38C79.50 288.13 80.00 287.88 80.50 287.62C81.00 287.36 81.50 287.10 82.00 286.83C82.50 286.55 83.00 286.28 83.50 285.99C84.00 285.70 84.50 285.41 85.00 285.10C85.50 284.80 86.00 284.48 86.50 284.16C87.00 283.83 87.50 283.50 88.00 283.15C88.50 282.80 89.00 282.44 89.50 282.07C90.00 281.70 90.50 281.31 91.00 280.91C91.50 280.51 92.00 280.10 92.50 279.66C93.00 279.23 93.50 278.79 94.00 278.32C94.50 277.86 95.00 277.38 95.50 276.88C96.00 276.38 96.50 275.86 97.00 275.32C97.50 274.79 98.00 274.23 98.50 273.66C99.00 273.08 99.50 272.49 100.00 271.88C100.50 271.28 101.00 270.65 101.50 270.02C102.00 269.38 102.50 268.73 103.00 268.07C103.50 267.41 104.00 266.73 104.50 266.05C105.00 265.36 105.50 264.67 106.00 263.97C106.50 263.27 107.00 262.56 107.50 261.85C108.00 261.13 108.50 260.41 109.00 259.69C109.50 258.97 110.00 258.24 110.50 257.51C111.00 256.78 111.50 256.05 112.00 255.32C112.50 254.59 113.00 253.86 113.50 253.13C114.00 252.40 114.50 251.67 115.00 250.94C115.50 250.22 116.00 249.49 116.50 248.77C117.00 248.04 117.50 247.31 118.00 246.59C118.50 245.86 119.00 245.14 119.50 244.41C120.00 243.69 120.50 242.96 121.00 242.24C121.50 241.51 122.00 240.78 122.50 240.05C123.00 239.33 123.50 238.60 124.00 237.86C124.50 237.13 125.00 236.40 125.50 235.67C126.00 234.93 126.50 234.20 127.00 233.46C127.50 232.72 128.00 231.98 128.50 231.23C129.00 230.49 129.50 229.74 130.00 228.99C130.50 228.24 131.00 227.49 131.50 226.74C132.00 225.98 132.50 225.22 133.00 224.46C133.50 223.69 134.00 222.93 134.50 222.16C135.00 221.38 135.50 220.61 136.00 219.83C136.50 219.05 137.00 218.26 137.50 217.47C138.00 216.68 138.50 215.89 139.00 215.09C139.50 214.29 140.00 213.48 140.50 212.67C141.00 211.86 141.50 211.04 142.00 210.21C142.50 209.39 143.00 208.56 143.50 207.72C144.00 206.89 144.50 206.04 145.00 205.19C145.50 204.34 146.00 203.49 146.50 202.62C147.00 201.76 147.50 200.88 148.00 200.00C148.50 199.12 149.00 198.24 149.50 197.34C150.00 196.45 150.50 195.54 151.00 194.63C151.50 193.72 152.00 192.80 152.50 191.87C153.00 190.94 153.50 190.00 154.00 189.05C154.50 188.10 155.00 187.15 155.50 186.19C156.00 185.23 156.50 184.26 157.00 183.29C157.50 182.33 158.00 181.35 158.50 180.38C159.00 179.40 159.50 178.43 160.00 177.45C160.50 176.48 161.00 175.50 161.50 174.53C162.00 173.56 162.50 172.58 163.00 171.62C163.50 170.65 164.00 169.69 164.50 168.73C165.00 167.78 165.50 166.82 166.00 165.88C166.50 164.94 167.00 164.00 167.50 163.08C168.00 162.16 168.50 161.24 169.00 160.34C169.50 159.43 170.00 158.54 170.50 157.66C171.00 156.78 171.50 155.91 172.00 155.05C172.50 154.19 173.00 153.33 173.50 152.49C174.00 151.64 174.50 150.80 175.00 149.97C175.50 149.13 176.00 148.30 176.50 147.48C177.00 146.66 177.50 145.84 178.00 145.02C178.50 144.20 179.00 143.39 179.50 142.57C180.00 141.76 180.50 140.95 181.00 140.13C181.50 139.32 182.00 138.51 182.50 137.69C183.00 136.87 183.50 136.06 184.00 135.24C184.50 134.41 185.00 133.59 185.50 132.76C186.00 131.93 186.50 131.10 187.00 130.26C187.50 129.42 188.00 128.58 188.50 127.73C189.00 126.88 189.50 126.02 190.00 125.16C190.50 124.30 191.00 123.43 191.50 122.55C192.00 121.68 192.50 120.79 193.00 119.90C193.50 119.01 194.00 118.11 194.50 117.20C195.00 116.29 195.50 115.37 196.00 114.44C196.50 113.51 197.00 112.57 197.50 111.63C198.00 110.68 198.50 109.72 199.00 108.75C199.50 107.78 200.00 106.79 200.50 105.80C201.00 104.80 201.50 103.80 202.00 102.78C202.50 101.76 203.00 100.73 203.50 99.69C204.00 98.65 204.50 97.60 205.00 96.54C205.50 95.49 206.00 94.42 206.50 93.36C207.00 92.30 207.50 91.22 208.00 90.16C208.50 89.09 209.00 88.02 209.50 86.95C210.00 85.88 210.50 84.82 211.00 83.76C211.50 82.70 212.00 81.64 212.50 80.60C213.00 79.55 213.50 78.51 214.00 77.48C214.50 76.45 215.00 75.44 215.50 74.43C216.00 73.42 216.50 72.43 217.00 71.43C217.50 70.43 218.00 69.43 218.50 68.41C219.00 67.40 219.50 66.38 220.00 65.32C220.50 64.27 221.00 63.20 221.50 62.09C222.00 60.98 222.50 59.85 223.00 58.66C223.50 57.47 224.00 56.24 224.50 54.95C225.00 53.66 225.50 52.33 226.00 50.92C226.50 49.51 227.00 48.02 227.50 46.51C228.00 45.00 228.50 43.39 229.00 41.86C229.50 40.34 230.00 38.77 230.50 37.33C231.00 35.90 231.50 34.51 232.00 33.27C232.50 32.03 233.00 30.93 233.50 29.90C234.00 28.87 234.50 27.97 235.00 27.08C235.50 26.19 236.00 25.39 236.50 24.58C237.00 23.76 237.50 22.98 238.00 22.21C238.50 21.44 239.00 20.69 239.50 19.96C240.00 19.22 240.50 18.51 241.00 17.81C241.50 17.11 242.00 16.43 242.50 15.77C243.00 15.11 243.50 14.46 244.00 13.83C244.50 13.20 245.00 12.59 245.50 12.01C246.00 11.43 246.50 10.87 247.00 10.34C247.50 9.82 248.00 9.32 248.50 8.87C249.00 8.42 249.50 8.00 250.00 7.63C250.50 7.26 251.00 6.93 251.50 6.66C252.00 6.39 252.50 6.17 253.00 6.01C253.50 5.84 254.00 5.75 254.50 5.68C255.00 5.62 255.50 5.62 256.00 5.61C256.50 5.61 257.00 5.65 257.50 5.68C258.00 5.70 258.50 5.74 259.00 5.76C259.50 5.78 260.00 5.81 260.50 5.81C261.00 5.80 261.50 5.78 262.00 5.74C262.50 5.70 263.00 5.61 263.50 5.57C264.00 5.54 264.50 5.48 265.00 5.54C265.50 5.61 266.00 5.70 266.50 5.96C267.00 6.23 267.50 6.57 268.00 7.14C268.50 7.71 269.00 8.40 269.50 9.40C270.00 10.41 270.50 11.59 271.00 13.17C271.50 14.75 272.00 16.71 272.50 18.89C273.00 21.06 273.50 23.71 274.00 26.21C274.50 28.71 275.00 31.36 275.50 33.89C276.00 36.41 276.50 38.95 277.00 41.36C277.50 43.77 278.00 46.19 278.50 48.38C279.00 50.56 279.50 52.61 280.00 54.46C280.50 56.30 281.00 57.94 281.50 59.45C282.00 60.97 282.50 62.30 283.00 63.55C283.50 64.80 284.00 65.90 284.50 66.95C285.00 68.01 285.50 68.95 286.00 69.87C286.50 70.80 287.00 71.65 287.50 72.51C288.00 73.38 288.50 74.20 289.00 75.08C289.50 75.95 290.00 76.82 290.50 77.77C291.00 78.71 291.50 79.71 292.00 80.74C292.50 81.78 293.00 82.87 293.50 83.99C294.00 85.10 294.50 86.26 295.00 87.42C295.50 88.59 296.00 89.79 296.50 90.99C297.00 92.19 297.50 93.40 298.00 94.61C298.50 95.81 299.00 97.03 299.50 98.22C300.00 99.40 300.50 100.59 301.00 101.74C301.50 102.89 302.00 104.03 302.50 105.13C303.00 106.23 303.50 107.31 304.00 108.34C304.50 109.38 305.00 110.38 305.50 111.34C306.00 112.29 306.50 113.21 307.00 114.08C307.50 114.94 308.00 115.76 308.50 116.52C309.00 117.27 309.50 117.98 310.00 118.62C310.50 119.26 311.00 119.84 311.50 120.35C312.00 120.85 312.50 121.29 313.00 121.66C313.50 122.02 314.00 122.31 314.50 122.51C315.00 122.71 315.50 122.83 316.00 122.86C316.50 122.89 317.00 122.84 317.50 122.68C318.00 122.53 318.50 122.28 319.00 121.93C319.50 121.57 320.00 121.12 320.50 120.55C321.00 119.98 321.50 119.31 322.00 118.52C322.50 117.74 323.00 116.79 323.50 115.84C324.00 114.89 324.50 113.81 325.00 112.81C325.50 111.81 326.00 110.75 326.50 109.83C327.00 108.92 327.50 108.04 328.00 107.31C328.50 106.58 329.00 105.98 329.50 105.47C330.00 104.97 330.50 104.58 331.00 104.28C331.50 103.99 332.00 103.80 332.50 103.69C333.00 103.58 333.50 103.56 334.00 103.63C334.50 103.70 335.00 103.85 335.50 104.11C336.00 104.37 336.50 104.71 337.00 105.18C337.50 105.66 338.00 106.23 338.50 106.94C339.00 107.65 339.50 108.49 340.00 109.45C340.50 110.41 341.00 111.55 341.50 112.70C342.00 113.85 342.50 115.11 343.00 116.35C343.50 117.60 344.00 118.88 344.50 120.17C345.00 121.45 345.50 122.76 346.00 124.08C346.50 125.39 347.00 126.73 347.50 128.06C348.00 129.39 348.50 130.73 349.00 132.06C349.50 133.40 350.00 134.74 350.50 136.07C351.00 137.39 351.50 138.72 352.00 140.03C352.50 141.33 353.00 142.63 353.50 143.91C354.00 145.19 354.50 146.44 355.00 147.69C355.50 148.94 356.00 150.17 356.50 151.41C357.00 152.64 357.50 153.87 358.00 155.11C358.50 156.35 359.00 157.59 359.50 158.86C360.00 160.12 360.50 161.40 361.00 162.70C361.50 164.01 362.00 165.33 362.50 166.69C363.00 168.06 363.50 169.45 364.00 170.89C364.50 172.33 365.00 173.81 365.50 175.34C366.00 176.87 366.50 178.45 367.00 180.07C367.50 181.70 368.00 183.37 368.50 185.09C369.00 186.81 369.50 188.59 370.00 190.42C370.50 192.24 371.00 194.12 371.50 196.06C372.00 197.99 372.50 199.98 373.00 202.03C373.50 204.07 374.00 206.18 374.50 208.31C375.00 210.44 375.50 212.63 376.00 214.80C376.50 216.98 377.00 219.20 377.50 221.38C378.00 223.57 378.50 225.77 379.00 227.92C379.50 230.08 380.00 232.21 380.50 234.30C381.00 236.40 381.50 238.45 382.00 240.47C382.50 242.49 383.00 244.48 383.50 246.42C384.00 248.36 384.50 250.26 385.00 252.12C385.50 253.98 386.00 255.80 386.50 257.57C387.00 259.35 387.50 261.08 388.00 262.76C388.50 264.45 389.00 266.09 389.50 267.68C390.00 269.27 390.50 270.81 391.00 272.30C391.50 273.79 392.00 275.23 392.50 276.62C393.00 278.01 393.50 279.35 394.00 280.63C394.50 281.91 395.00 283.14 395.50 284.31C396.00 285.48 396.50 286.59 397.00 287.65C397.50 288.71 398.00 289.70 398.50 290.65C399.00 291.60 399.50 292.50 400.00 293.35C400.50 294.19 401.00 294.99 401.50 295.74C402.00 296.50 402.50 297.20 403.00 297.86C403.50 298.53 404.00 299.15 404.50 299.73C405.00 300.31 405.50 300.85 406.00 301.36C406.50 301.86 407.00 302.33 407.50 302.77C408.00 303.20 408.50 303.60 409.00 303.98C409.50 304.35 410.00 304.69 410.50 305.01C411.00 305.33 411.50 305.62 412.00 305.88C412.50 306.15 413.00 306.39 413.50 306.62C414.00 306.84 414.50 307.04 415.00 307.23C415.50 307.42 416.00 307.58 416.50 307.74C417.00 307.90 417.50 308.04 418.00 308.17C418.50 308.30 419.00 308.42 419.50 308.54C420.00 308.65 420.50 308.76 421.00 308.86C421.50 308.96 422.02 309.06 422.50 309.16C422.98 309.25 423.67 309.39 423.90 309.43" fill="none" stroke="#000000" stroke-width="1.78" stroke-linejoin="round" stroke-linecap="butt"/>
<text x="37.10" y="325.3" font-size="12" text-anchor="middle">0</text>
<text x="103.58" y="325.3" font-size="12" text-anchor="middle">5</text>
<text x="170.07" y="325.3" font-size="12" text-anchor="middle">10</text>
<text x="236.55" y="325.3" font-size="12" text-anchor="middle">15</text>
<text x="303.03" y="325.3" font-size="12" text-anchor="middle">20</text>
<text x="369.52" y="325.3" font-size="12" text-anchor="middle">25</text>
<text x="436.00" y="325.3" font-size="12" text-anchor="middle">30</text>
<text x="30.8" y="313.20" font-size="12" text-anchor="end">0.0</text>
<text x="30.8" y="252.51" font-size="12" text-anchor="end">0.2</text>
<text x="30.8" y="191.82" font-size="12" text-anchor="end">0.4</text>
<text x="30.8" y="131.13" font-size="12" text-anchor="end">0.6</text>
<text x="30.8" y="70.44" font-size="12" text-anchor="end">0.8</text>
<text x="30.8" y="9.05" font-size="12" text-anchor="end">1.0</text>
<text x="376.7" y="337.1" font-size="15">eV, meV</text>
<text transform="translate(12.6,97.3) rotate(-90)" font-size="14.8">g<tspan font-size="9.2" dy="4.3" textLength="9.2" lengthAdjust="spacingAndGlyphs">PC</tspan><tspan dy="-4.3">, rel. units</tspan></text>
<text x="386.50" y="47.60" font-size="14" text-anchor="middle">1</text>
<text x="389.10" y="193.00" font-size="14" text-anchor="middle">2</text>
<text x="216.30" y="265.80" font-size="14" text-anchor="middle">3</text>
<text x="253.00" y="122.60" font-size="14" text-anchor="middle">4</text>
</svg>
</body></html>
